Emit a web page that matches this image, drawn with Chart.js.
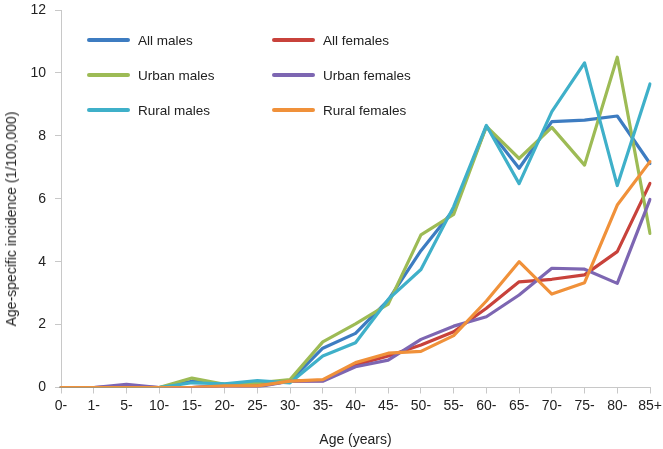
<!DOCTYPE html>
<html>
<head>
<meta charset="utf-8">
<script src="https://cdn.jsdelivr.net/npm/chart.js@4.4.1/dist/chart.umd.min.js"></script>
<style>
  html, body { margin: 0; padding: 0; background: #fff; }
  #wrap { position: relative; width: 663px; height: 449px; }
  #ytitle {
    position: absolute; left: 11px; top: 219px;
    transform: translate(-50%, -50%) rotate(-90deg);
    white-space: nowrap; font: 14px "Liberation Sans", Arial, sans-serif; color: #222;
  }
  #legend { position: absolute; left: 0; top: 0; font: 13.5px "Liberation Sans", Arial, sans-serif; color: #222; }
  .item { position: absolute; height: 16px; display: flex; align-items: center; white-space: nowrap; }
  .sw { width: 43px; height: 4px; border-radius: 2px; margin-right: 8px; }
</style>
</head>
<body>
<div id="wrap">
  <canvas id="c" width="663" height="449"></canvas>
  <div id="ytitle">Age-specific incidence (1/100,000)</div>
  <div id="legend"></div>
</div>
<script>
const ageGroups = ['0-','1-','5-','10-','15-','20-','25-','30-','35-','40-','45-','50-','55-','60-','65-','70-','75-','80-','85+'];
const allMales     = [0,0,0.02,0,0.2,0.1,0.15,0.2,1.25,1.72,2.78,4.35,5.65,8.3,6.97,8.45,8.5,8.63,7.12];
const allFemales   = [0,0,0.03,0,0,0.05,0.05,0.2,0.22,0.72,1.0,1.35,1.77,2.52,3.36,3.44,3.58,4.32,6.49];
const urbanMales   = [0,0,0,0,0.3,0.1,0.15,0.25,1.45,2.02,2.65,4.85,5.5,8.3,7.28,8.27,7.07,10.5,4.9];
const urbanFemales = [0,0,0.1,0,0,0.05,0.02,0.2,0.2,0.66,0.87,1.53,1.95,2.25,2.94,3.79,3.76,3.31,5.98];
const ruralMales   = [0,0,0,0,0.15,0.12,0.22,0.15,1.0,1.42,2.8,3.75,5.75,8.33,6.48,8.77,10.32,6.42,9.65];
const ruralFemales = [0,0,0,0,0,0.05,0.05,0.2,0.25,0.79,1.09,1.15,1.65,2.75,4.0,2.97,3.33,5.8,7.18];
const yTicks = [0,2,4,6,8,10,12];

const series = [
  {label:'All males', data: allMales, color:'#3D7CC1', order:5},
  {label:'All females', data: allFemales, color:'#C8423B', order:4},
  {label:'Urban males', data: urbanMales, color:'#9DBB55', order:3},
  {label:'Urban females', data: urbanFemales, color:'#7D66B2', order:2},
  {label:'Rural males', data: ruralMales, color:'#3FB0C9', order:1},
  {label:'Rural females', data: ruralFemales, color:'#F0913A', order:0}
];

const FONT = '"Liberation Sans", Arial, sans-serif';
const chart = new Chart(document.getElementById('c'), {
  type: 'line',
  data: {
    labels: ageGroups,
    datasets: series.map(s => ({
      label: s.label, data: s.data, borderColor: s.color, backgroundColor: s.color,
      borderWidth: 3.2, pointRadius: 0, tension: 0, fill: false, order: s.order,
      borderJoinStyle: 'round', borderCapStyle: 'round'
    }))
  },
  options: {
    responsive: false, animation: false,
    layout: { padding: { top: 10, right: 13, left: 0, bottom: 0 } },
    plugins: { legend: { display: false }, tooltip: { enabled: false } },
    scales: {
      x: {
        type: 'category', offset: false,
        grid: { display: true, drawOnChartArea: false, drawTicks: true, tickLength: 6, color: '#c8c8c8' },
        border: { display: true, color: '#c8c8c8', width: 1 },
        ticks: { font: { family: FONT, size: 14 }, color: '#222', maxRotation: 0, autoSkip: false, padding: 4 },
        title: { display: true, text: 'Age (years)', font: { family: FONT, size: 14 }, color: '#222', padding: { top: 8, bottom: 0 } },
        afterFit: s => { s.height = 61.5; s.paddingLeft = 0; s.paddingRight = 0; }
      },
      y: {
        min: 0, max: 12,
        afterBuildTicks: s => { s.ticks = yTicks.map(v => ({ value: v })); },
        grid: { display: true, drawOnChartArea: false, drawTicks: true, tickLength: 6, color: '#c8c8c8' },
        border: { display: true, color: '#c8c8c8', width: 1 },
        ticks: { font: { family: FONT, size: 14 }, color: '#222', padding: 9 },
        afterFit: s => { s.width = 61; s.paddingTop = 0; s.paddingBottom = 0; }
      }
    }
  }
});

// HTML legend built from dataset labels
const leg = document.getElementById('legend');
const colX = [87, 272];
const rowY = [40, 75, 110];
series.forEach((s, i) => {
  const d = document.createElement('div');
  d.className = 'item';
  d.style.left = colX[i % 2] + 'px';
  d.style.top = (rowY[Math.floor(i / 2)] - 8) + 'px';
  const sw = document.createElement('span');
  sw.className = 'sw'; sw.style.background = s.color;
  d.appendChild(sw);
  d.appendChild(document.createTextNode(s.label));
  leg.appendChild(d);
});
</script>
</body>
</html>
